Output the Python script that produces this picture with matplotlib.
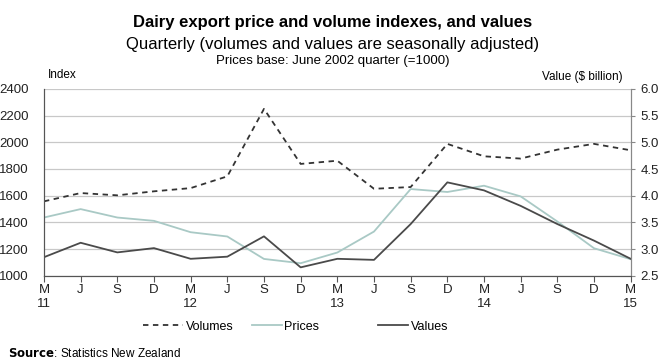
import matplotlib
matplotlib.use("Agg")
import matplotlib.pyplot as plt
import numpy as np

plt.rcParams['font.family'] = ['Liberation Sans', 'DejaVu Sans']

# quarters March 2011 .. March 2015
quarters = ["M\n11", "J", "S", "D", "M\n12", "J", "S", "D", "M\n13",
            "J", "S", "D", "M\n14", "J", "S", "D", "M\n15"]
volumes = [1558, 1620, 1603, 1633, 1657, 1745, 2250, 1838, 1862,
           1652, 1665, 1988, 1895, 1878, 1945, 1988, 1940]
prices = [1437, 1500, 1437, 1412, 1327, 1295, 1127, 1095, 1175,
          1332, 1650, 1628, 1675, 1595, 1407, 1207, 1125]
values = [2.85, 3.12, 2.94, 3.02, 2.82, 2.86, 3.24, 2.66, 2.82,
          2.80, 3.47, 4.25, 4.10, 3.81, 3.47, 3.16, 2.82]

x = np.arange(len(quarters))

fig = plt.figure(figsize=(6.66, 3.64), dpi=100)
ax = fig.add_axes([0.066, 0.242, 0.881, 0.514])
ax2 = ax.twinx()

lv, = ax.plot(x, volumes, color="#333333", lw=1.3, ls=(0, (3, 2.5)), label="Volumes")
lp, = ax.plot(x, prices, color="#a9c9c5", lw=1.3, label="Prices")
lval, = ax2.plot(x, values, color="#4a4a4a", lw=1.3, label="Values")

ax.set_xlim(0, len(quarters) - 1)
ax.set_ylim(1000, 2400)
ax.set_yticks(np.arange(1000, 2401, 200))
ax2.set_ylim(2.5, 6.0)
ax2.set_yticks(np.arange(2.5, 6.01, 0.5))
ax2.set_yticklabels(["%.1f" % v for v in np.arange(2.5, 6.01, 0.5)])

ax.set_xticks(x)
ax.set_xticklabels(quarters, fontsize=9.5, linespacing=1.25, multialignment='center')
ax.yaxis.grid(True, color="#c8c8c8", lw=0.9)
ax.set_axisbelow(True)

for a in (ax, ax2):
    a.spines['top'].set_visible(False)
    a.spines['left'].set_color("#555555")
    a.spines['right'].set_color("#888888")
    a.spines['bottom'].set_color("#555555")
    a.tick_params(labelsize=9.5, colors="#222222")
ax.tick_params(axis='y', length=0, pad=11)
ax.tick_params(axis='x', length=4, color="#555555", pad=2)
ax2.tick_params(axis='y', length=3, color="#888888", pad=4)

fig.text(0.5, 0.927, "Dairy export price and volume indexes, and values",
         ha='center', fontsize=12, fontweight='bold')
fig.text(0.5, 0.866, "Quarterly (volumes and values are seasonally adjusted)",
         ha='center', fontsize=12)
fig.text(0.5, 0.824, "Prices base: June 2002 quarter (=1000)",
         ha='center', fontsize=9.5)
fig.text(0.072, 0.787, "Index", fontsize=8.5)
fig.text(0.935, 0.78, "Value ($ billion)", ha='right', fontsize=8.5)

# three separate legend entries, spaced like the original
for handle, xpos, hl in [(lv, 0.198, 3.2), (lp, 0.361, 2.4), (lval, 0.551, 2.4)]:
    leg = fig.legend([handle], [handle.get_label()], loc='center left',
                     bbox_to_anchor=(xpos, 0.102), frameon=False, fontsize=9,
                     handlelength=hl, handletextpad=0.2)

fig.text(0.012, 0.02, r"$\bf{Source}$: Statistics New Zealand", fontsize=8.5)

fig.savefig("out.png", dpi=100)
